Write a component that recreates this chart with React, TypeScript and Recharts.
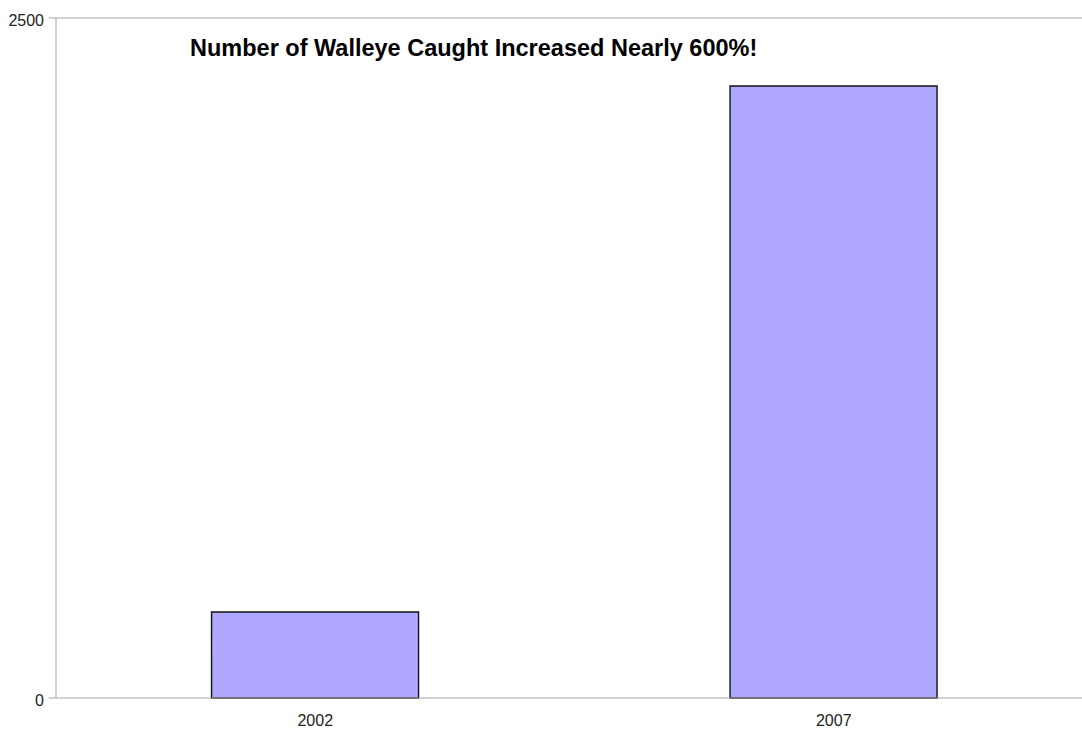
import React from 'react';
import { BarChart, Bar, XAxis, YAxis, ReferenceLine } from 'recharts';

const years = ['2002', '2007'];
const walleyeCaught = [316, 2250];
const yTicks = [0, 2500];

const data = years.map((year, i) => ({ year, caught: walleyeCaught[i] }));

const axisGray = '#a6a6a6';
const font = 'Liberation Sans, Arial, sans-serif';

const App = () => {
  return (
    <div
      style={{
        position: 'absolute',
        left: 0,
        top: 0,
        width: 1082,
        height: 734,
        overflow: 'hidden',
        background: '#fff',
        fontFamily: font,
      }}
    >
      <BarChart
        width={1100}
        height={734}
        data={data}
        margin={{ top: 18, right: 7, left: 0, bottom: 6 }}
        barCategoryGap="30%"
      >
        <XAxis
          dataKey="year"
          height={30}
          stroke={axisGray}
          tickLine={false}
          tickSize={0}
          tickMargin={17}
          tick={{ fill: '#222', fontSize: 16, fontFamily: font }}
        />
        <YAxis
          width={56}
          domain={[0, 2500]}
          ticks={yTicks}
          interval={0}
          stroke={axisGray}
          tickSize={7}
          tickMargin={5}
          tick={{ fill: '#222', fontSize: 16, fontFamily: font, dy: 2 }}
        />
        <ReferenceLine y={2500} stroke={axisGray} strokeWidth={1} />
        <Bar
          dataKey="caught"
          fill="#b0a8ff"
          stroke="#111"
          strokeWidth={1.4}
          isAnimationActive={false}
        />
      </BarChart>
      <div
        style={{
          position: 'absolute',
          left: 190,
          top: 35,
          fontSize: 23.5,
          fontWeight: 'bold',
          color: '#000',
          whiteSpace: 'nowrap',
        }}
      >
        Number of Walleye Caught Increased Nearly 600%!
      </div>
    </div>
  );
};

export default App;
